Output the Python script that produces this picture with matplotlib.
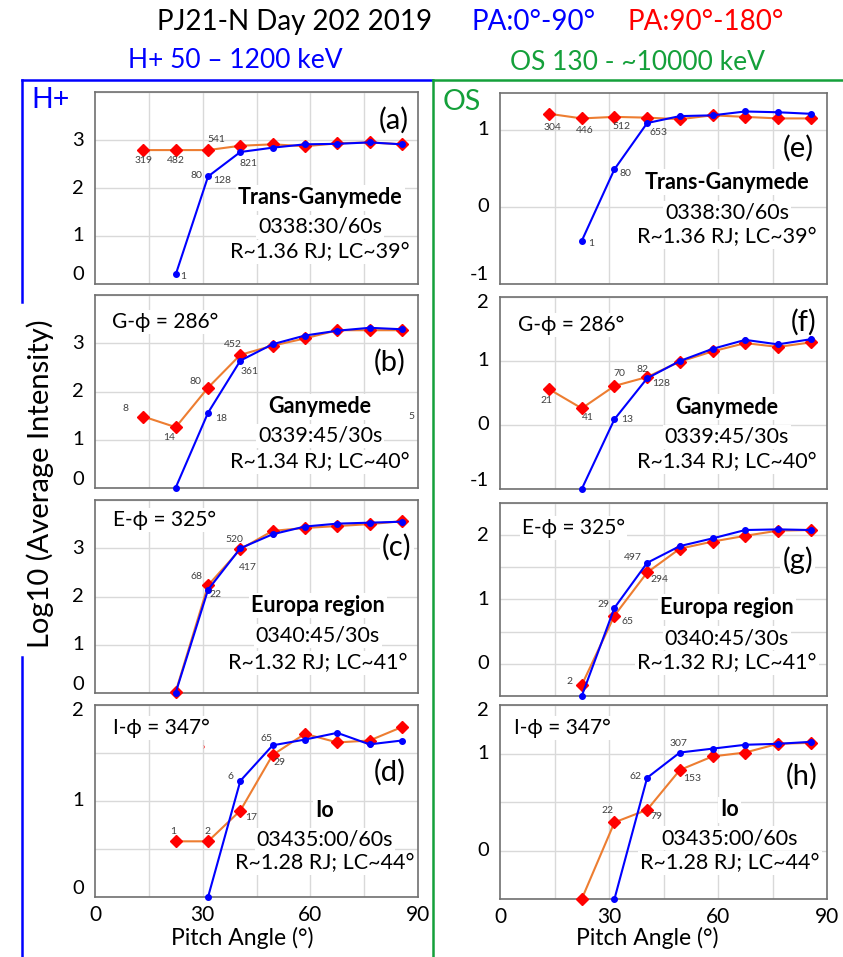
import matplotlib
matplotlib.use('Agg')
import matplotlib.pyplot as plt
from matplotlib.lines import Line2D
from matplotlib.transforms import blended_transform_factory
import numpy as np

plt.rcParams['font.family'] = ['Lato', 'DejaVu Sans']

W, H = 843, 957
fig = plt.figure(figsize=(W / 100, H / 100), dpi=100)

# ---------------- data ----------------
pitch_angle = [13.5, 22.5, 31.5, 40.5, 49.5, 58.5, 67.5, 76.5, 85.5]
x_ticks = [0, 30, 60, 90]

# H+ panels (a)-(d)
a_red = [2.79, 2.79, 2.79, 2.88, 2.91, 2.87, 2.93, 2.95, 2.91]
a_blue = [0.20, 2.24, 2.75, 2.84, 2.91, 2.92, 2.95, 2.91]
b_red = [1.48, 1.26, 2.08, 2.76, 2.95, 3.10, 3.27, 3.27, 3.27]
b_blue = [0.01, 1.56, 2.64, 2.98, 3.16, 3.26, 3.32, 3.29]
c_red = [0.03, 2.23, 2.98, 3.36, 3.42, 3.46, 3.50, 3.56]
c_blue = [0.01, 2.14, 3.00, 3.29, 3.45, 3.51, 3.53, 3.55]
d_red = [0.58, 0.58, 0.90, 1.48, 1.70, 1.61, 1.63, 1.77]
d_blue = [0.00, 1.21, 1.58, 1.64, 1.71, 1.59, 1.63]
# OS panels (e)-(h)
e_red = [1.21, 1.15, 1.17, 1.16, 1.14, 1.19, 1.17, 1.15, 1.15]
e_blue = [-0.44, 0.49, 1.09, 1.18, 1.19, 1.24, 1.23, 1.21]
f_red = [0.56, 0.26, 0.61, 0.75, 0.99, 1.15, 1.28, 1.22, 1.29]
f_blue = [-1.00, 0.09, 0.73, 1.00, 1.19, 1.33, 1.26, 1.34]
g_red = [-0.33, 0.75, 1.42, 1.79, 1.90, 1.99, 2.07, 2.08]
g_blue = [-0.50, 0.87, 1.57, 1.83, 1.95, 2.08, 2.09, 2.08]
h_red = [-0.50, 0.29, 0.42, 0.83, 0.97, 1.01, 1.10, 1.11]
h_blue = [-0.50, 0.75, 1.01, 1.05, 1.09, 1.10, 1.12]

# count labels: (series, point index, text, dx px, dy px)
a_counts = [('r', 0, '319', 0, -10), ('r', 1, '482', 0, -10), ('r', 2, '541', 8, 11),
            ('r', 3, '821', 8, -18), ('b', 1, '80', -12, 1), ('b', 1, '128', 14, -4),
            ('b', 0, '1', 7, -2)]
b_counts = [('r', 0, '8', -18, 8), ('r', 1, '14', -7, -10), ('r', 2, '80', -13, 6),
            ('b', 1, '18', 13, -6), ('r', 3, '452', -7, 10), ('b', 2, '361', 9, -11)]
c_counts = [('r', 1, '68', -12, 9), ('b', 1, '22', 7, -5), ('r', 2, '520', -6, 10),
            ('b', 2, '417', 8, -19)]
d_counts = [('r', 0, '1', -3, 10), ('r', 1, '2', -1, 10), ('r', 2, '17', 11, -7),
            ('r', 3, '29', 7, -8), ('b', 1, '6', -10, 4), ('b', 2, '65', -6, 7)]
e_counts = [('r', 0, '304', 3, -14), ('r', 1, '446', 3, -12), ('r', 2, '512', 7, -10),
            ('r', 3, '653', 11, -15), ('b', 1, '80', 11, -4), ('b', 0, '1', 9, -3)]
f_counts = [('r', 0, '21', -3, -11), ('r', 1, '41', 6, -9), ('r', 2, '70', 5, 12),
            ('r', 3, '82', -5, 8), ('b', 2, '128', 14, -5), ('b', 1, '13', 13, 0)]
g_counts = [('r', 0, '2', -12, 4), ('b', 1, '29', -11, 3), ('r', 1, '65', 13, -6),
            ('b', 2, '497', -14, 5), ('r', 2, '294', 12, -7)]
h_counts = [('r', 1, '22', -7, 12), ('r', 2, '79', 9, -7), ('r', 3, '153', 12, -9),
            ('b', 1, '62', -12, 1), ('b', 2, '307', -1, 9)]

panel_letters = ['(a)', '(b)', '(c)', '(d)', '(e)', '(f)', '(g)', '(h)']
region_names = ['Trans-Ganymede', 'Ganymede', 'Europa region', 'Io',
                'Trans-Ganymede', 'Ganymede', 'Europa region', 'Io']
time_labels = ['0338:30/60s', '0339:45/30s', '0340:45/30s', '03435:00/60s',
               '0338:30/60s', '0339:45/30s', '0340:45/30s', '03435:00/60s']
pos_labels = ['R~1.36 RJ; LC~39°', 'R~1.34 RJ; LC~40°', 'R~1.32 RJ; LC~41°', 'R~1.28 RJ; LC~44°',
              'R~1.36 RJ; LC~39°', 'R~1.34 RJ; LC~40°', 'R~1.32 RJ; LC~41°', 'R~1.28 RJ; LC~44°']
phi_labels = [None, 'G-ϕ = 286°', 'E-ϕ = 325°', 'I-ϕ = 347°',
              None, 'G-ϕ = 286°', 'E-ϕ = 325°', 'I-ϕ = 347°']

# ---------------- styling / layout ----------------
BLUE = '#0000FF'
RED = '#FF0000'
ORANGE = '#ED7D31'
GREEN = '#14A03A'
GRID = '#D9D9D9'
CNT = '#404040'


def px_box(left, top, right, bottom):
    return [left / W, 1 - bottom / H, (right - left) / W, (bottom - top) / H]


L0, L1 = 95, 418
R0, R1 = 500, 827

panels = [
    dict(box=px_box(L0, 92, L1, 284), ylim=(0, 4), step=1, yt=[0, 1, 2, 3], ytl=['0', '1', '2', '3'],
         red=a_red, r0=0, blue=a_blue, b0=1, counts=a_counts,
         let=(0.926, 0.854), tx=0.697, ty=(0.448, 0.297, 0.167), phi=None),
    dict(box=px_box(L0, 295, L1, 488), ylim=(0, 4), step=1, yt=[0, 1, 2, 3], ytl=['0', '1', '2', '3'],
         red=b_red, r0=0, blue=b_blue, b0=1, counts=b_counts,
         let=(0.913, 0.653), tx=0.697, ty=(0.42, 0.27, 0.135), phi=(0.053, 0.86)),
    dict(box=px_box(L0, 500, L1, 693), ylim=(0, 4), step=1, yt=[0, 1, 2, 3], ytl=['0', '1', '2', '3'],
         red=c_red, r0=1, blue=c_blue, b0=1, counts=c_counts,
         let=(0.935, 0.755), tx=0.69, ty=(0.453, 0.297, 0.156), phi=(0.056, 0.896)),
    dict(box=px_box(L0, 705, L1, 897), ylim=(0, 2), step=0.5, yt=[0, 1, 2], ytl=['0', '1', '2'],
         red=d_red, r0=1, blue=d_blue, b0=2, counts=d_counts,
         let=(0.913, 0.651), tx=0.712, ty=(0.453, 0.297, 0.177), phi=(0.056, 0.88)),
    dict(box=px_box(R0, 93, R1, 284), ylim=(-1, 1.48), step=1, yt=[-1, 0, 1], ytl=['-1', '0', '1'],
         red=e_red, r0=0, blue=e_blue, b0=1, counts=e_counts,
         let=(0.911, 0.712), tx=0.694, ty=(0.534, 0.372, 0.246), phi=None),
    dict(box=px_box(R0, 297, R1, 489), ylim=(-1, 2), step=1, yt=[-1, 0, 1, 2], ytl=['-1', '0', '1', '2'],
         red=f_red, r0=0, blue=f_blue, b0=1, counts=f_counts,
         let=(0.927, 0.87), tx=0.694, ty=(0.427, 0.271, 0.141), phi=(0.055, 0.854)),
    dict(box=px_box(R0, 503, R1, 696), ylim=(-0.5, 2.5), step=0.5, yt=[0, 1, 2], ytl=['0', '1', '2'],
         red=g_red, r0=1, blue=g_blue, b0=1, counts=g_counts,
         let=(0.911, 0.705), tx=0.694, ty=(0.461, 0.30, 0.171), phi=(0.067, 0.87)),
    dict(box=px_box(R0, 705, R1, 899), ylim=(-0.5, 1.5), step=0.5, yt=[0, 1, 1.5], ytl=['0', '1', '2'],
         red=h_red, r0=1, blue=h_blue, b0=2, counts=h_counts,
         let=(0.924, 0.63), tx=0.703, ty=(0.459, 0.314, 0.186), phi=(0.043, 0.88)),
]

PX2PT = 72 / 100

for i, p in enumerate(panels):
    ax = fig.add_axes(p['box'])
    ax.set_xlim(0, 90)
    ax.set_ylim(*p['ylim'])
    # grid
    for gx in range(15, 90, 15):
        ax.axvline(gx, color=GRID, lw=1, zorder=0.5)
    for gy in np.arange(p['ylim'][0], p['ylim'][1] + 1e-9, p['step']):
        ax.axhline(gy, color=GRID, lw=1, zorder=0.5)
    for s in ax.spines.values():
        s.set_color('#707070')
        s.set_linewidth(1.2)
    ax.tick_params(length=0)
    ax.set_yticks([])
    # y tick labels drawn manually (slightly nudged like the original)
    ytr = blended_transform_factory(ax.transAxes, ax.transData)
    for pos, lab in zip(p['yt'], p['ytl']):
        shift = 0
        if pos == p['ylim'][0]:
            shift = 9
        elif pos == p['ylim'][1]:
            shift = -5
        ax.annotate(lab, xy=(0, pos), xycoords=ytr, xytext=(-11 * PX2PT, shift * PX2PT),
                    textcoords='offset points', ha='right', va='center', fontsize=14.5,
                    annotation_clip=False)
    if i in (3, 7):
        ax.set_xticks(x_ticks)
        ax.set_xticklabels([str(t) for t in x_ticks], fontsize=15)
        ax.tick_params(axis='x', pad=6)
    else:
        ax.set_xticks([])

    rx = pitch_angle[p['r0']:p['r0'] + len(p['red'])]
    bx = pitch_angle[p['b0']:p['b0'] + len(p['blue'])]
    ax.plot(rx, p['red'], color=ORANGE, lw=1.5, zorder=3, clip_on=False)
    ax.plot(rx, p['red'], ls='none', marker='D', ms=6.5, mfc=RED, mec=RED, zorder=3.2, clip_on=False)
    ax.plot(bx, p['blue'], color=BLUE, lw=1.5, marker='o', ms=4, mfc=BLUE, mec=BLUE,
            zorder=3.5, clip_on=False)

    for ser, idx, txt, dx, dy in p['counts']:
        if ser == 'r':
            xy = (rx[idx], p['red'][idx])
        else:
            xy = (bx[idx], p['blue'][idx])
        ax.annotate(txt, xy=xy, xytext=(dx * PX2PT, dy * PX2PT), textcoords='offset points',
                    ha='center', va='center', fontsize=7.5, color=CNT, zorder=4)

    box = dict(facecolor='white', edgecolor='none', pad=1.5)
    ax.text(p['let'][0], p['let'][1], panel_letters[i], transform=ax.transAxes,
            ha='center', va='center', fontsize=21, zorder=1, bbox=box)
    ax.text(p['tx'], p['ty'][0], region_names[i], transform=ax.transAxes,
            ha='center', va='center', fontsize=15.5, fontweight='bold', zorder=1, bbox=box)
    ax.text(p['tx'], p['ty'][1], time_labels[i], transform=ax.transAxes,
            ha='center', va='center', fontsize=15.5, zorder=1, bbox=box)
    ax.text(p['tx'], p['ty'][2], pos_labels[i], transform=ax.transAxes,
            ha='center', va='center', fontsize=15.5, zorder=1, bbox=box)
    if p['phi'] is not None:
        ax.text(p['phi'][0], p['phi'][1], phi_labels[i], transform=ax.transAxes,
                ha='left', va='center', fontsize=15, zorder=1, bbox=box,
                family=['Lato', 'DejaVu Sans'])
    if i == 1:
        ax.text(0.981, 0.368, '5', transform=ax.transAxes, ha='center', va='center',
                fontsize=7.5, color=CNT)
    if i == 3:
        ax.text(0.337, 0.78, '›', transform=ax.transAxes, ha='center', va='center',
                fontsize=6, color=RED)


# ---------------- figure-level text ----------------
def ftext(x, y, s, **kw):
    fig.text(x / W, 1 - y / H, s, ha='center', va='center', **kw)


ftext(295, 22, 'PJ21-N Day 202 2019', fontsize=20, color='black')
ftext(534, 22, 'PA:0°-90°', fontsize=20, color=BLUE)
ftext(706, 22, 'PA:90°-180°', fontsize=20, color=RED)
ftext(235, 60, 'H+ 50 – 1200 keV', fontsize=19, color=BLUE)
ftext(638, 62, 'OS 130 - ~10000 keV', fontsize=19, color=GREEN)
ftext(50, 100, 'H+', fontsize=20.5, color=BLUE)
ftext(462, 102, 'OS', fontsize=20.5, color=GREEN)
ftext(242, 938, 'Pitch Angle (°)', fontsize=16.5, color='black')
ftext(647, 938, 'Pitch Angle (°)', fontsize=16.5, color='black')
ftext(40, 484, 'Log10 (Average Intensity)', fontsize=21, color='black', rotation=90)


# frames
def fline(xs, ys, color):
    fig.add_artist(Line2D([x / W for x in xs], [1 - y / H for y in ys], color=color, lw=1.8,
                          transform=fig.transFigure))


fline([22, 432], [80, 80], BLUE)
fline([22, 22], [80, 302], BLUE)
fline([22, 22], [657, 957], BLUE)
fline([433, 843], [80, 80], GREEN)
fline([433, 433], [80, 957], GREEN)

fig.savefig('out.png', dpi=100, facecolor='white')
